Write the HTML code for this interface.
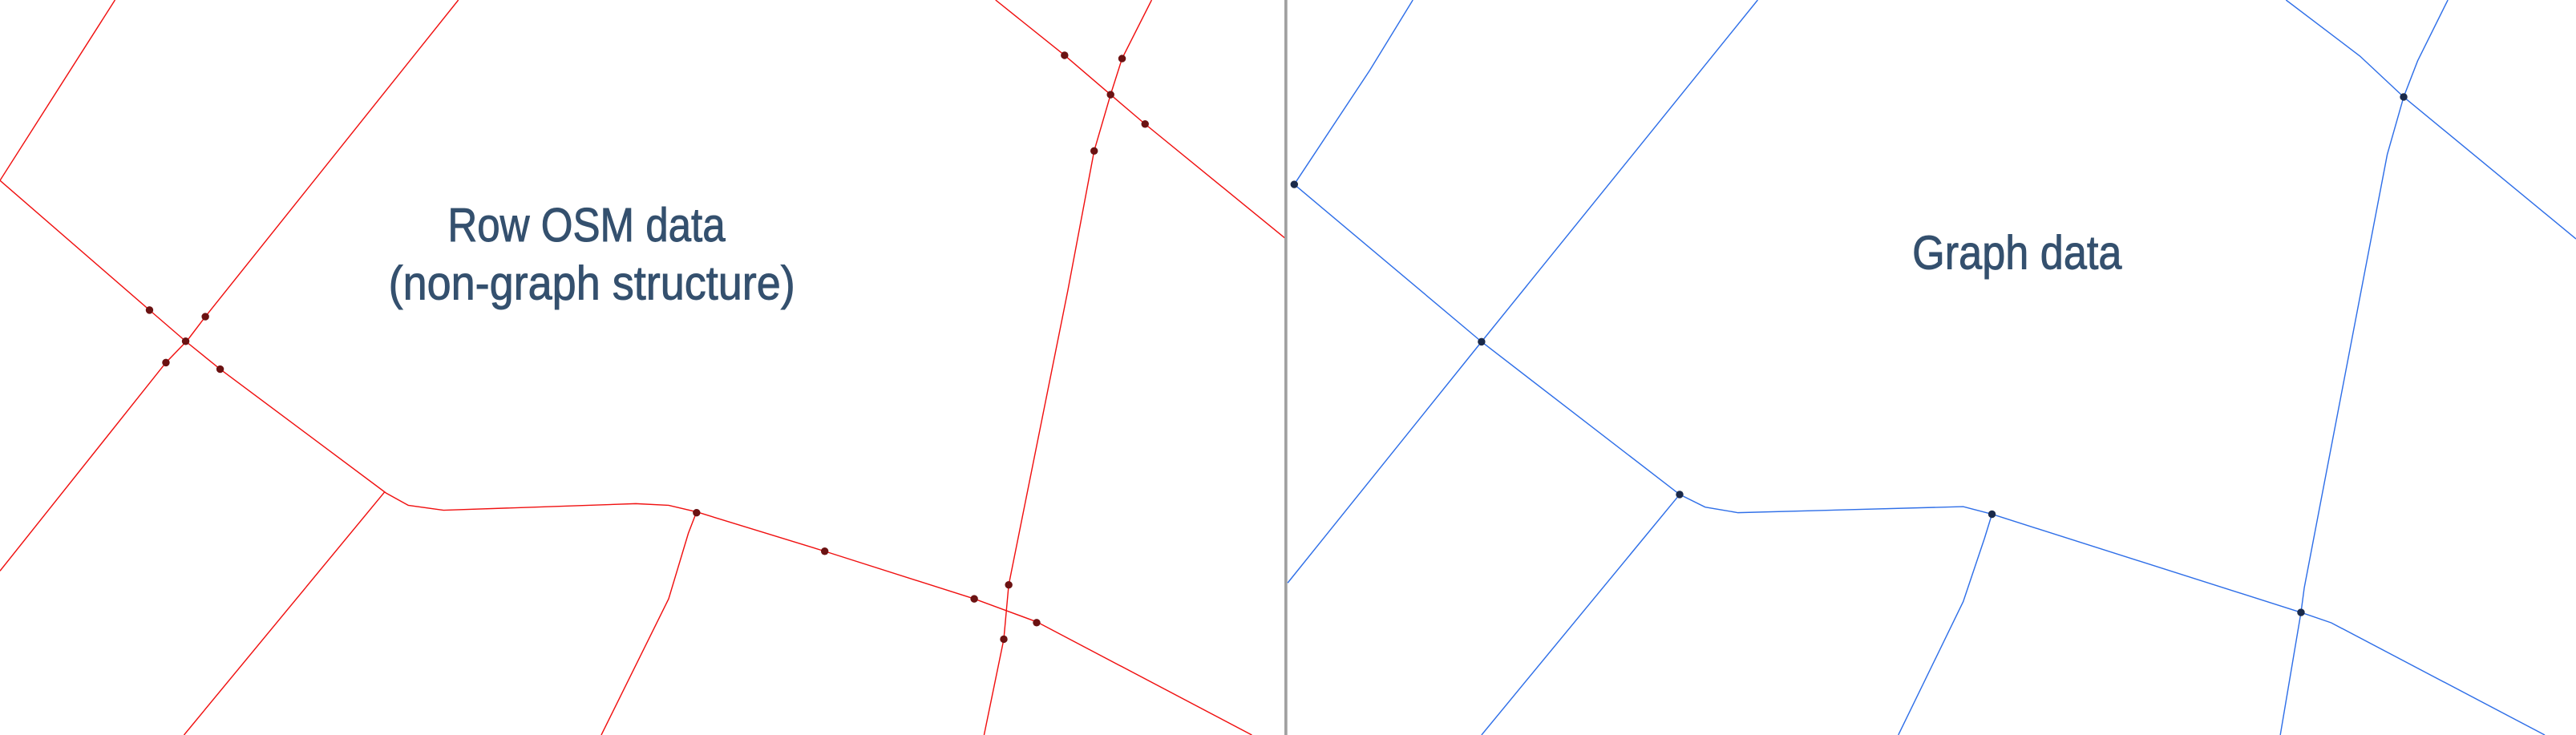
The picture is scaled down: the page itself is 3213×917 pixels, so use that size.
<!DOCTYPE html>
<html><head><meta charset="utf-8"><style>
html,body{margin:0;padding:0;background:#fff;width:3213px;height:917px;overflow:hidden}
svg{display:block}
text{font-family:"Liberation Sans Narrow","Liberation Sans",sans-serif;fill:#34506e;stroke:#34506e;stroke-width:0.45}
</style></head><body>
<svg width="3213" height="917" viewBox="0 0 1568 448" preserveAspectRatio="none">
<rect width="1568" height="448" fill="#fff"/>
<g fill="none" stroke="#f01010" stroke-width="0.7">
<polyline points="70,0 0,110"/>
<polyline points="0,110 91,189 113,208 134,225 235,300.5 248.5,308 270,311 387,307 407,308 424,312 502,336 593,365 612,372 631,379 762,448"/>
<polyline points="279,0 125,193 114,207.5 101,221 0,348"/>
<polyline points="234,300 112,448"/>
<polyline points="424,312 419,325 407,365 366,448"/>
<polyline points="606,0 648,33.7 676,57.7 697,75.6 782,145"/>
<polyline points="701,0 683,35.7 676,57.7 666,92 650,177 614,356.5 611,389.6 599,448"/>
</g>
<g fill="#6b1212">
<circle cx="91" cy="189" r="2.3"/><circle cx="125" cy="193" r="2.3"/><circle cx="113" cy="208" r="2.3"/><circle cx="101" cy="221" r="2.3"/><circle cx="134" cy="225" r="2.3"/>
<circle cx="648" cy="33.7" r="2.3"/><circle cx="683" cy="35.7" r="2.3"/><circle cx="676" cy="57.7" r="2.3"/><circle cx="697" cy="75.6" r="2.3"/><circle cx="666" cy="92" r="2.3"/>
<circle cx="424" cy="312.5" r="2.3"/><circle cx="502" cy="336" r="2.3"/><circle cx="593" cy="365" r="2.3"/><circle cx="614" cy="356.5" r="2.3"/><circle cx="631" cy="379.5" r="2.3"/><circle cx="611" cy="389.6" r="2.3"/>
</g>
<text x="272.5" y="147" font-size="29" textLength="169" lengthAdjust="spacingAndGlyphs">Row OSM data</text>
<text x="236.5" y="182.5" font-size="29" textLength="247.5" lengthAdjust="spacingAndGlyphs">(non-graph structure)</text>
<rect x="781.8" y="0" width="1.8" height="448" fill="#a0a0a0"/>
<g fill="none" stroke="#2f6fe8" stroke-width="0.7">
<polyline points="860,0 833.8,42.8 787.8,112.4"/>
<polyline points="787.8,112.4 901.8,208.3 1022.4,301.4 1037.9,309.1 1057.9,312.5 1195,308.8 1212.5,313.4 1400.6,373.3 1419,379.6 1549,448"/>
<polyline points="1069.9,0 901.8,208.3 783.8,355.3"/>
<polyline points="1022.4,301.4 901.8,448"/>
<polyline points="1212.5,313.4 1208,328 1195,366.7 1155.5,448"/>
<polyline points="1391.5,0 1436.5,34.2 1463.1,59.1 1568,145.6"/>
<polyline points="1490,0 1471.6,37.1 1463.1,59.1 1453.1,94.2 1402.6,358.2 1400.6,373.3 1388,448"/>
</g>
<g fill="#1a2a4a">
<circle cx="787.8" cy="112.4" r="2.3"/><circle cx="901.8" cy="208.3" r="2.3"/><circle cx="1022.4" cy="301.4" r="2.3"/><circle cx="1212.5" cy="313.4" r="2.3"/><circle cx="1400.6" cy="373.3" r="2.3"/><circle cx="1463.1" cy="59.1" r="2.3"/>
</g>
<text x="1164" y="164" font-size="29" textLength="127.5" lengthAdjust="spacingAndGlyphs">Graph data</text>
</svg>
</body></html>
